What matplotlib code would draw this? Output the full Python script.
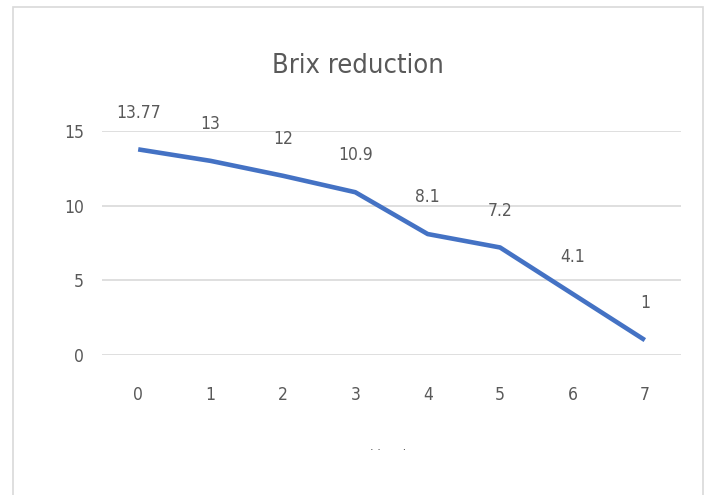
import numpy as np
import matplotlib.pyplot as plt
from matplotlib.patches import Rectangle

plt.rcParams['font.family'] = ['DejaVu Sans']
plt.rcParams['font.stretch'] = 'condensed'

days = [0, 1, 2, 3, 4, 5, 6, 7]
brix = [13.77, 13, 12, 10.9, 8.1, 7.2, 4.1, 1]
brix_labels = ['13.77', '13', '12', '10.9', '8.1', '7.2', '4.1', '1']
yticks = [0, 5, 10, 15]

txt = '#595959'
fig = plt.figure(figsize=(7.06, 4.95), dpi=100)
# chart area border
fig.patches.append(Rectangle((13/706, -0.01), (703-13)/706, 1 - 7/495 + 0.01,
                             transform=fig.transFigure, fill=False,
                             edgecolor='#d9d9d9', linewidth=1.2))

ax = fig.add_axes([102/706, 1-355/495, (681-102)/706, (355-131)/495])
ax.plot(days, brix, color='#4472C4', linewidth=3.3, solid_capstyle='butt')
for x, y, s in zip(days, brix, brix_labels):
    ax.annotate(s, (x, y), xytext=(0, 20), textcoords='offset points',
                ha='center', va='bottom', fontsize=12.5, color=txt)

ax.set_xlim(-0.5, 7.5)
ax.set_ylim(0, 15)
ax.set_xticks(days)
ax.set_yticks(yticks)
ax.grid(axis='y', color='#d9d9d9', linewidth=1.2)
ax.set_axisbelow(True)
for sp in ax.spines.values():
    sp.set_visible(False)
ax.tick_params(length=0, labelsize=12.5, colors=txt)
ax.tick_params(axis='x', pad=22)
ax.tick_params(axis='y', pad=13)

fig.text(358/706, 1-66/495, 'Brix reduction', ha='center', va='center',
         fontsize=19.5, color=txt)
fig.text(388/706, 1-447/495, '. .      .', ha='center', va='center',
         fontsize=9, color=txt)

plt.savefig('out.png', dpi=100)
